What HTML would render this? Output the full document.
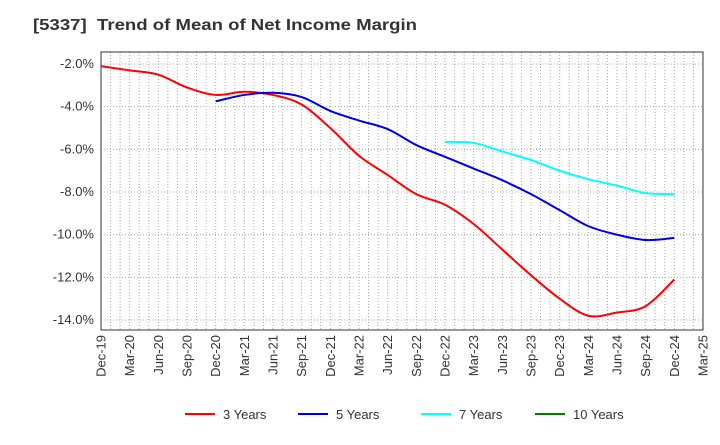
<!DOCTYPE html>
<html><head><meta charset="utf-8"><style>
body{margin:0;background:#fff;font-family:"Liberation Sans",Arial,sans-serif}
</style></head><body>
<svg id="c" width="720" height="440" xmlns="http://www.w3.org/2000/svg" style="font-family:'Liberation Sans',Arial,sans-serif">
<text x="33" y="30" font-size="16" font-weight="bold" fill="#333" textLength="384" lengthAdjust="spacingAndGlyphs" xml:space="preserve">[5337]  Trend of Mean of Net Income Margin</text>
<g id="grid"></g><g id="axes"></g><g id="series"></g><g id="legend"></g>
</svg>
<script>
const categories=["Dec-19","Mar-20","Jun-20","Sep-20","Dec-20","Mar-21","Jun-21","Sep-21","Dec-21","Mar-22","Jun-22","Sep-22","Dec-22","Mar-23","Jun-23","Sep-23","Dec-23","Mar-24","Jun-24","Sep-24","Dec-24","Mar-25"];
const yTicks=[-2,-4,-6,-8,-10,-12,-14];
const s3=[-2.1,-2.3,-2.5,-3.1,-3.45,-3.3,-3.45,-3.9,-5.0,-6.3,-7.2,-8.1,-8.6,-9.5,-10.7,-11.9,-13.0,-13.8,-13.65,-13.35,-12.1];
const s5=[null,null,null,null,-3.75,-3.45,-3.35,-3.55,-4.2,-4.65,-5.05,-5.8,-6.35,-6.9,-7.45,-8.1,-8.85,-9.6,-10.0,-10.25,-10.15];
const s7=[null,null,null,null,null,null,null,null,null,null,null,null,-5.65,-5.7,-6.1,-6.5,-7.0,-7.4,-7.7,-8.05,-8.1];
const s10=[];
const L=101,R=703,T=52,B=330;
const xs=i=>L+i*(R-L)/(categories.length-1);
const ys=v=>64+(-2-v)*(320-64)/12;
const NS="http://www.w3.org/2000/svg";
function mk(t,a,p){const e=document.createElementNS(NS,t);for(const k in a)e.setAttribute(k,a[k]);p.appendChild(e);return e;}
const grid=document.getElementById('grid'),axes=document.getElementById('axes'),ser=document.getElementById('series'),leg=document.getElementById('legend');
for(let m=1;m<(categories.length-1)*3;m++){const x=L+m*(R-L)/((categories.length-1)*3);
const g=mk('line',{x1:x,x2:x,y1:T,y2:B,stroke:'#aaa','stroke-dasharray':'1,2','stroke-width':1},grid);

}
yTicks.forEach(v=>{const y=ys(v);
const g=mk('line',{x1:L,x2:R,y1:y,y2:y,stroke:'#aaa','stroke-dasharray':'1,2'},grid);


const t=mk('text',{x:L-7,y:y+4,'text-anchor':'end','font-size':13,fill:'#333'},axes);
t.textContent=v.toFixed(1)+'%';

});
const fr=mk('rect',{x:L,y:T,width:R-L,height:B-T,fill:'none',stroke:'#333'},axes);


categories.forEach((c,i)=>{const x=xs(i);
const t=mk('text',{x:0,y:0,transform:`translate(${x+4.5},${B+5}) rotate(-90)`,'text-anchor':'end','font-size':13,fill:'#333'},axes);
t.textContent=c;

});
function path(arr){const p=[];arr.forEach((v,i)=>{if(v!=null)p.push([xs(i),ys(v)]);});
if(p.length<2)return '';let d=`M${p[0][0]},${p[0][1]}`;
for(let i=0;i<p.length-1;i++){const p0=p[i-1]||p[i],p1=p[i],p2=p[i+1],p3=p[i+2]||p2;
d+=` C${p1[0]+(p2[0]-p0[0])/6},${p1[1]+(p2[1]-p0[1])/6} ${p2[0]-(p3[0]-p1[0])/6},${p2[1]-(p3[1]-p1[1])/6} ${p2[0]},${p2[1]}`;}return d;}
const series=[[s3,'#ff0000','3 Years','series-3-years'],[s5,'#0000dd','5 Years','series-5-years'],[s7,'#00ffff','7 Years','series-7-years'],[s10,'#008000','10 Years','series-10-years']];
series.forEach(([d,c,n,nm],k)=>{const pd=path(d);
if(pd){const p=mk('path',{d:pd,fill:'none',stroke:c,'stroke-width':2},ser);

}
const lx=[185,298,421,535][k];
const g=mk('g',{},leg);


mk('line',{x1:lx,x2:lx+30,y1:414,y2:414,stroke:c,'stroke-width':2},g);
const t=mk('text',{x:lx+38,y:419,'font-size':13,fill:'#333'},g);
t.textContent=n;});
</script>
</body></html>
